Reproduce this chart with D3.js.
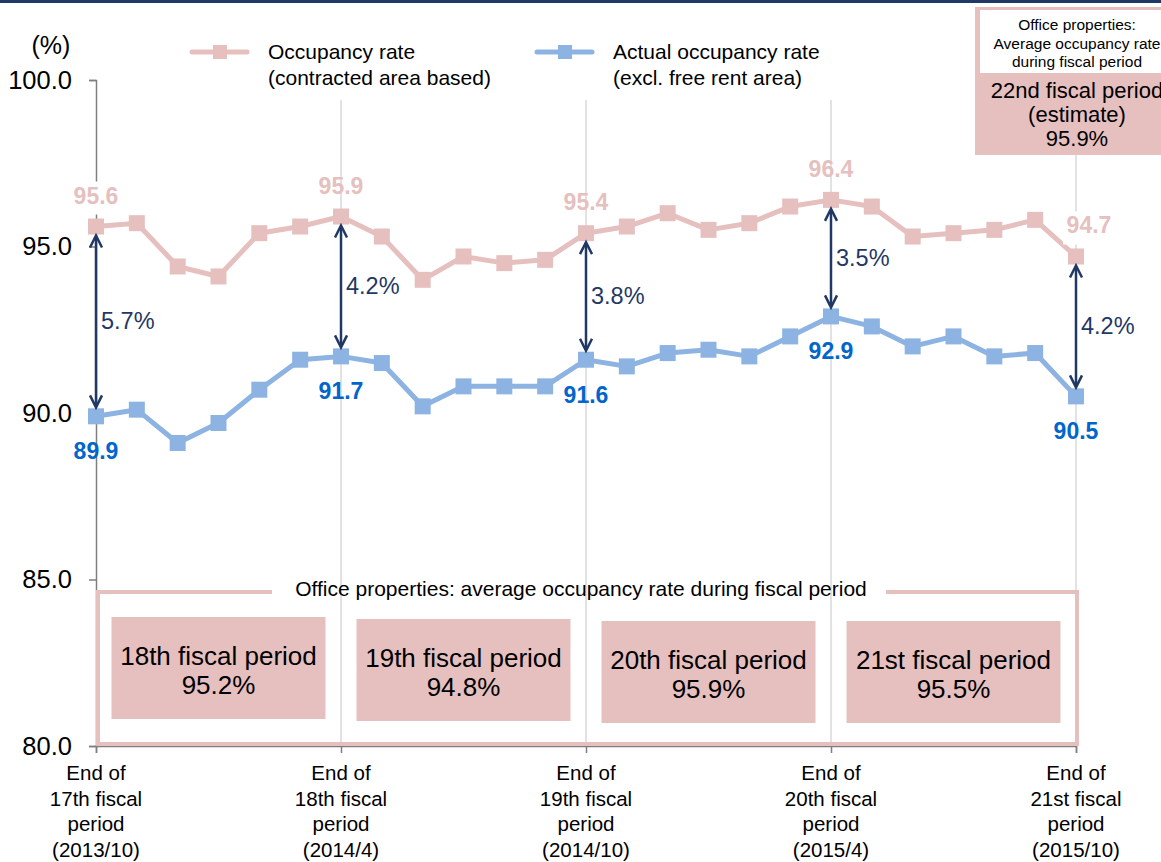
<!DOCTYPE html>
<html><head><meta charset="utf-8">
<script src="https://cdn.jsdelivr.net/npm/d3@7"></script>
<style>body{margin:0;background:#fff}svg{display:block;font-family:"Liberation Sans",Arial,sans-serif}</style>
</head><body><svg id="c" width="1161" height="862"></svg>
<script>
const occupancy = [95.6,95.7,94.4,94.1,95.4,95.6,95.9,95.3,94.0,94.7,94.5,94.6,95.4,95.6,96.0,95.5,95.7,96.2,96.4,96.2,95.3,95.4,95.5,95.8,94.7];
const actual = [89.9,90.1,89.1,89.7,90.7,91.6,91.7,91.5,90.2,90.8,90.8,90.8,91.6,91.4,91.8,91.9,91.7,92.3,92.9,92.6,92.0,92.3,91.7,91.8,90.5];
const keyIdx = [0,6,12,18,24];
const gapLabels = ["5.7%","4.2%","3.8%","3.5%","4.2%"];
const xTickLabels = [
  ["End of","17th fiscal","period","(2013/10)"],
  ["End of","18th fiscal","period","(2014/4)"],
  ["End of","19th fiscal","period","(2014/10)"],
  ["End of","20th fiscal","period","(2015/4)"],
  ["End of","21st fiscal","period","(2015/10)"]
];
const yTicks = [80,85,90,95,100];
const periodNames = ["18th fiscal period","19th fiscal period","20th fiscal period","21st fiscal period"];
const periodAvg = ["95.2%","94.8%","95.9%","95.5%"];
const legendLabels = [["Occupancy rate","(contracted area based)"],["Actual occupancy rate","(excl. free rent area)"]];

const PINK = "#E6BFBF", BLUE = "#8DB3E2", NAVY = "#1F3864", LBLUE = "#0066CC";
const svg = d3.select("#c");
const x = d3.scaleLinear().domain([0,24]).range([96,1076]);
const y = d3.scaleLinear().domain([80,100]).range([746,80]);

// top bar
svg.append("rect").attr("x",0).attr("y",0).attr("width",1161).attr("height",3).attr("fill",NAVY);

// gridlines
keyIdx.slice(1).forEach((k,i)=>{
  const top = i===3 ? 155 : 100;
  svg.append("line").attr("x1",x(k)).attr("x2",x(k)).attr("y1",top).attr("y2",746)
    .attr("stroke","#D9D9D9").attr("stroke-width",1.5);
});

// y axis
const yAxis = d3.axisLeft(y).tickValues(yTicks).tickFormat(d3.format(".1f")).tickSize(7).tickPadding(17);
const ga = svg.append("g").attr("transform","translate(96,0)").call(yAxis);
ga.select(".domain").attr("stroke","#7F7F7F").attr("stroke-width",1.5);
ga.selectAll(".tick line").attr("stroke","#7F7F7F").attr("stroke-width",1.5);
ga.selectAll(".tick text").attr("font-size",25.5).attr("fill","#000").attr("font-family","Liberation Sans, Arial, sans-serif");
svg.append("text").attr("x",51).attr("y",54).attr("text-anchor","middle").attr("font-size",25).text("(%)");

// x ticks
const xAxis = d3.axisBottom(x).tickValues(keyIdx).tickSize(7).tickFormat("");
const gx = svg.append("g").attr("transform","translate(0,746)").call(xAxis);
gx.select(".domain").attr("stroke","#7F7F7F").attr("stroke-width",1.5);
gx.selectAll(".tick line").attr("stroke","#7F7F7F").attr("stroke-width",1.5);
keyIdx.forEach((k,i)=>{
  const t = svg.append("text").attr("text-anchor","middle").attr("font-size",20.5).attr("fill","#000");
  xTickLabels[i].forEach((s,j)=>t.append("tspan").attr("x",x(k)).attr("y",780+j*25.7).text(s));
});

// bottom box
const bx0 = x(0)+2, bx1 = x(24)+1, by0 = 592, by1 = 744;
svg.append("path").attr("d",`M272,${by0}H${bx0}V${by1}H${bx1}V${by0}H886`)
  .attr("fill","none").attr("stroke",PINK).attr("stroke-width",4);
svg.append("text").attr("x",581).attr("y",596).attr("text-anchor","middle").attr("font-size",21).text("Office properties: average occupancy rate during fiscal period");
const boxYs = [617,619,621,621];
periodNames.forEach((n,i)=>{
  const cx = (x(keyIdx[i])+x(keyIdx[i+1]))/2;
  svg.append("rect").attr("x",cx-107).attr("y",boxYs[i]).attr("width",214).attr("height",102).attr("fill",PINK);
  const t = svg.append("text").attr("text-anchor","middle").attr("font-size",26).attr("fill","#000");
  t.append("tspan").attr("x",cx).attr("y",boxYs[i]+48).text(n);
  t.append("tspan").attr("x",cx).attr("y",boxYs[i]+77).text(periodAvg[i]);
});

// top right box
svg.append("rect").attr("x",975).attr("y",7).attr("width",200).attr("height",148).attr("fill",PINK);
svg.append("rect").attr("x",980).attr("y",10).attr("width",200).attr("height",63).attr("fill","#fff");
const tr1 = svg.append("text").attr("text-anchor","middle").attr("font-size",15.5);
["Office properties:","Average occupancy rate","during fiscal period"].forEach((s,j)=>tr1.append("tspan").attr("x",1077).attr("y",30+j*18.5).text(s));
const tr2 = svg.append("text").attr("text-anchor","middle").attr("font-size",22);
["22nd fiscal period","(estimate)","95.9%"].forEach((s,j)=>tr2.append("tspan").attr("x",1077).attr("y",98+j*24).text(s));

// legend
[[PINK,192],[BLUE,537]].forEach(([c,lx],i)=>{
  svg.append("line").attr("x1",lx).attr("x2",lx+55).attr("y1",52).attr("y2",52).attr("stroke",c).attr("stroke-width",5).attr("stroke-linecap","round");
  svg.append("rect").attr("x",lx+21).attr("y",45).attr("width",14).attr("height",14).attr("fill",c);
  const t = svg.append("text").attr("font-size",21);
  legendLabels[i].forEach((s,j)=>t.append("tspan").attr("x",lx+76).attr("y",59+j*26).text(s));
});

// lines
const line = d3.line().x((d,i)=>x(i)).y(d=>y(d));
[[occupancy,PINK],[actual,BLUE]].forEach(([data,c])=>{
  svg.append("path").datum(data).attr("d",line).attr("fill","none").attr("stroke",c).attr("stroke-width",5).attr("stroke-linejoin","round");
  svg.selectAll(null).data(data).enter().append("rect")
    .attr("x",(d,i)=>x(i)-8).attr("y",d=>y(d)-8).attr("width",16).attr("height",16).attr("fill",c);
});

// arrows
keyIdx.forEach((k,i)=>{
  const cx = x(k), y1 = y(occupancy[k])+9, y2 = y(actual[k])-9;
  svg.append("line").attr("x1",cx).attr("x2",cx).attr("y1",y1+1).attr("y2",y2-1).attr("stroke",NAVY).attr("stroke-width",2.5);
  svg.append("path").attr("d",`M${cx-6},${y1+12}L${cx},${y1}L${cx+6},${y1+12}M${cx-6},${y2-12}L${cx},${y2}L${cx+6},${y2-12}`)
    .attr("fill","none").attr("stroke",NAVY).attr("stroke-width",2.5).attr("stroke-linejoin","miter");
  svg.append("text").attr("x",cx+5).attr("y",(y1+y2)/2+8).attr("font-size",23.5).attr("fill",NAVY).text(gapLabels[i]);
});

// data labels
keyIdx.forEach((k,i)=>{
  const dx = i===4 ? 13 : 0;
  const px = x(k)+dx, py = y(occupancy[k])-23;
  if (i===0 || i===4) {
    svg.append("rect").attr("x",px-26).attr("y",py-22).attr("width",52).attr("height",33).attr("fill","#fff");
  }
  svg.append("text").attr("x",px).attr("y",py).attr("text-anchor","middle")
    .attr("font-size",23).attr("font-weight","bold").attr("fill",PINK).text(occupancy[k].toFixed(1));
  svg.append("text").attr("x",x(k)).attr("y",y(actual[k])+43).attr("text-anchor","middle")
    .attr("font-size",23).attr("font-weight","bold").attr("fill",LBLUE).text(actual[k].toFixed(1));
});
</script></body></html>
